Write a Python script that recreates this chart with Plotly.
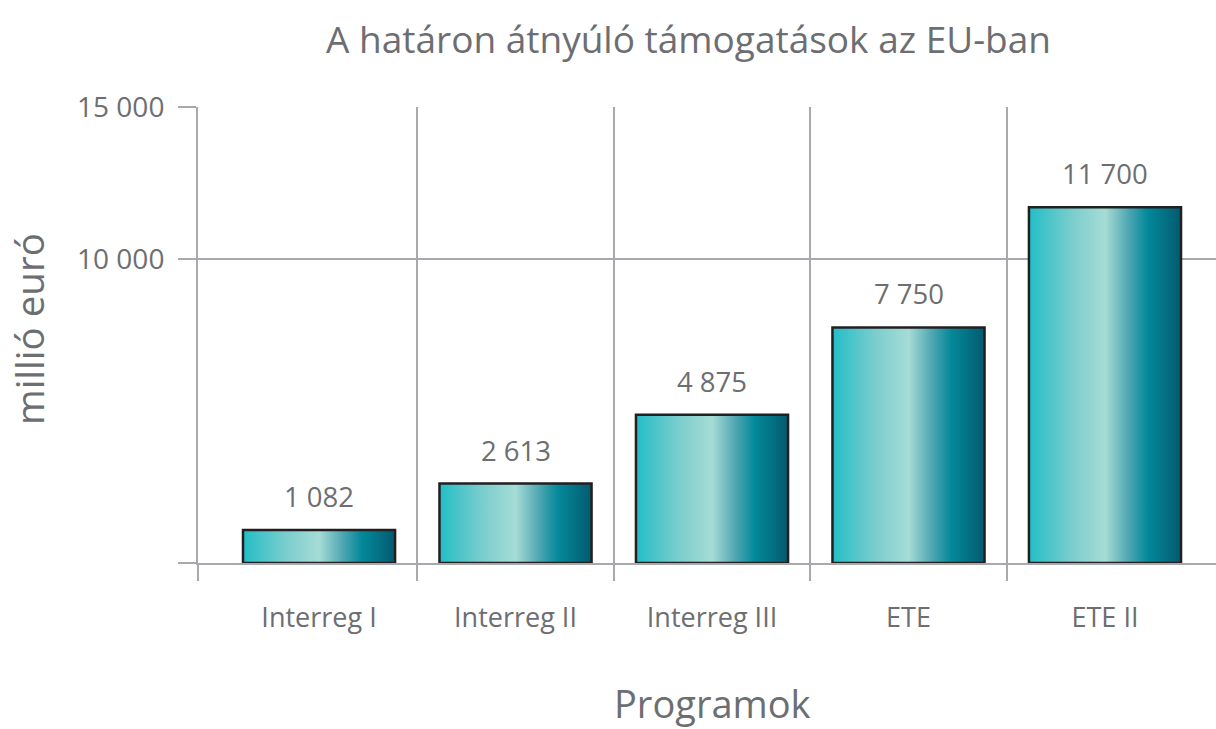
import plotly.graph_objects as go

# ---- data ----
categories = ["Interreg I", "Interreg II", "Interreg III", "ETE", "ETE II"]
values = [1082, 2613, 4875, 7750, 11700]
y_tickvals = [0, 10000, 15000]
title_text = "A határon átnyúló támogatások az EU-ban"
x_title = "Programok"
y_title = "millió euró"

# ---- style ----
FONT = "Open Sans"
TXT = "#6D6E71"
GRID = "#A7A9AC"
BAR_HALF = 0.387
GRAD = [[0.0, "#22BEC6"], [0.28, "#7ACDCD"], [0.5, "#A6DCD6"], [0.66, "#4CA5B1"],
        [0.78, "#03899A"], [1.0, "#045A6F"]]

def fmt(v):
    return "" if v == 0 else f"{v:,}".replace(",", " ")

idx = list(range(len(categories)))
x_lo, x_hi = -0.616, 4.565

fig = go.Figure()
for i, v in zip(idx, values):
    fig.add_trace(go.Scatter(
        x=[i - BAR_HALF, i - BAR_HALF, i + BAR_HALF, i + BAR_HALF, i - BAR_HALF],
        y=[0, v, v, 0, 0],
        mode="lines", fill="toself",
        fillgradient=dict(type="horizontal", colorscale=GRAD),
        line=dict(color="#231F20", width=2.5),
        hoverinfo="skip", showlegend=False,
    ))

# category labels on overlaying axis
fig.add_trace(go.Scatter(x=idx, y=[None] * len(idx), xaxis="x2", mode="markers",
                         showlegend=False, hoverinfo="skip"))

for i, v in zip(idx, values):
    fig.add_annotation(x=i, y=v, text=fmt(v), showarrow=False, yanchor="bottom",
                       yshift=13, font=dict(family=FONT, size=27.5, color=TXT))

fig.add_annotation(x=(688 - 198) / 1018, y=(563 - 39) / 456, xref="paper", yref="paper",
                   text=title_text, showarrow=False, xanchor="center", yanchor="middle",
                   font=dict(family=FONT, size=37, color=TXT))
fig.add_annotation(x=(712 - 198) / 1018, y=(563 - 703) / 456, xref="paper", yref="paper",
                   text=x_title, showarrow=False, xanchor="center", yanchor="middle",
                   font=dict(family=FONT, size=38, color=TXT))
fig.add_annotation(x=(29 - 198) / 1018, y=(563 - 329) / 456, xref="paper", yref="paper",
                   text=y_title, showarrow=False, textangle=-90, xanchor="center",
                   yanchor="middle", font=dict(family=FONT, size=38.5, color=TXT))

fig.update_layout(
    width=1216, height=729,
    margin=dict(l=198, r=0, t=107, b=166),
    paper_bgcolor="white", plot_bgcolor="white",
    font=dict(family=FONT, color=TXT),
    xaxis=dict(range=[x_lo, x_hi], tickvals=[x_lo + 0.001, 0.5, 1.5, 2.5, 3.5],
               showticklabels=False, ticks="outside", ticklen=16, tickwidth=2,
               tickcolor=GRID, showgrid=True, gridcolor=GRID, gridwidth=2,
               zeroline=False, showline=True, linecolor=GRID, linewidth=2,
               layer="below traces"),
    xaxis2=dict(overlaying="x", matches="x", anchor="y", side="bottom",
                tickvals=idx, ticktext=categories, ticks="", showgrid=False,
                zeroline=False, showline=False, ticklabelstandoff=36,
                tickfont=dict(family=FONT, size=27, color=TXT)),
    yaxis=dict(range=[0, 15000], tickvals=y_tickvals, ticktext=[fmt(v) for v in y_tickvals],
               ticks="outside", ticklen=18, tickwidth=2, tickcolor=GRID,
               showgrid=True, gridcolor=GRID, gridwidth=2, zeroline=False,
               showline=True, linecolor=GRID, linewidth=2, ticklabelstandoff=8,
               tickfont=dict(family=FONT, size=28, color=TXT), layer="below traces"),
)

fig.write_html("out.html", config={"displayModeBar": False},
               post_script="document.body.style.margin='0';document.body.style.overflow='hidden';")
